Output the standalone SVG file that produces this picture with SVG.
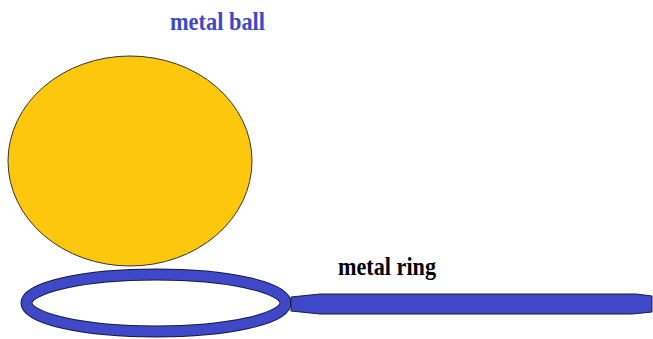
<svg xmlns="http://www.w3.org/2000/svg" width="653" height="339" viewBox="0 0 653 339">
<style>
.lbl{font-family:"Liberation Serif",serif;font-weight:bold;font-size:25px}
.blue{fill:#3f48c8;stroke:#1a1a3a;stroke-width:1}
</style>
<rect width="653" height="339" fill="#ffffff"/>
<g id="ball">
<ellipse cx="130" cy="161" rx="122" ry="105" fill="#fdc70d" stroke="#333" stroke-width="1"/>
<text class="lbl" x="170" y="30" textLength="95" lengthAdjust="spacingAndGlyphs" fill="#3f48c8">metal ball</text>
</g>
<g id="ring">
<ellipse cx="156" cy="303" rx="129.5" ry="28.5" fill="none" stroke="#1a1a3a" stroke-width="12"/>
<ellipse cx="156" cy="303" rx="129.5" ry="28.5" fill="none" stroke="#3f48c8" stroke-width="10"/>
<path class="blue" d="M291,297 L320,294 L636,294 L652,296 L652,312 L632,314 L320,314 L291,311 Z"/>
<text class="lbl" x="338" y="275" textLength="98" lengthAdjust="spacingAndGlyphs" fill="#000">metal ring</text>
</g>
<g id="connectors"></g>
</svg>
